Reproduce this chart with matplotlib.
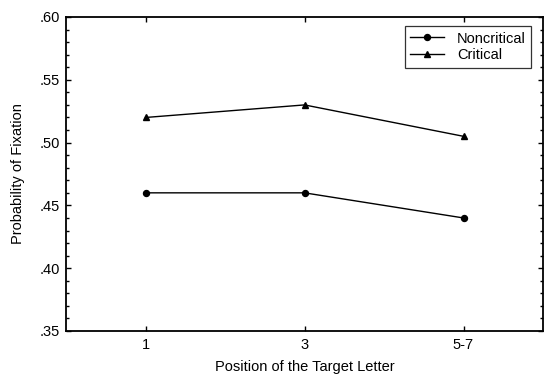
import matplotlib
matplotlib.use("Agg")
import matplotlib.pyplot as plt
from matplotlib.ticker import MultipleLocator

positions = ["1", "3", "5-7"]
noncritical = [0.46, 0.46, 0.44]
critical = [0.52, 0.53, 0.505]
yticks = [0.35, 0.40, 0.45, 0.50, 0.55, 0.60]
ytick_labels = [".35", ".40", ".45", ".50", ".55", ".60"]

plt.rcParams['font.family'] = ['Liberation Sans', 'DejaVu Sans']
fig = plt.figure(figsize=(5.5, 3.79), dpi=100)
ax = fig.add_axes([66/550, 1-331/379, (543-66)/550, (331-17)/379])

x = [1, 2, 3]
ax.plot(x, noncritical, color='black', lw=1, marker='o', ms=4.3, label='Noncritical')
ax.plot(x, critical, color='black', lw=1, marker='^', ms=5, label='Critical')

ax.set_xlim(0.5, 3.5)
ax.set_ylim(0.35, 0.60)
ax.set_xticks(x)
ax.set_xticklabels(positions)
ax.set_yticks(yticks)
ax.set_yticklabels(ytick_labels)
ax.yaxis.set_minor_locator(MultipleLocator(0.01))
ax.tick_params(which='both', direction='in', top=True, right=True, labelsize=10.5, width=1)
ax.tick_params(which='major', length=3.5)
ax.tick_params(axis='x', which='major', pad=5)
ax.tick_params(axis='y', which='major', pad=4.5)
ax.tick_params(which='minor', length=2.5)
for s in ax.spines.values():
    s.set_linewidth(1.3)

ax.set_xlabel('Position of the Target Letter', fontsize=10.5, labelpad=6)
ax.set_ylabel('Probability of Fixation', fontsize=10.5, labelpad=10)

leg = ax.legend(loc='upper right', bbox_to_anchor=(0.975, 0.97), fontsize=10.5, frameon=True,
                fancybox=False, edgecolor='black', handlelength=2.3, borderpad=0.35,
                labelspacing=0.2, handletextpad=0.9, borderaxespad=0)
leg.get_frame().set_linewidth(0.9)

fig.savefig('out.png', dpi=100)
